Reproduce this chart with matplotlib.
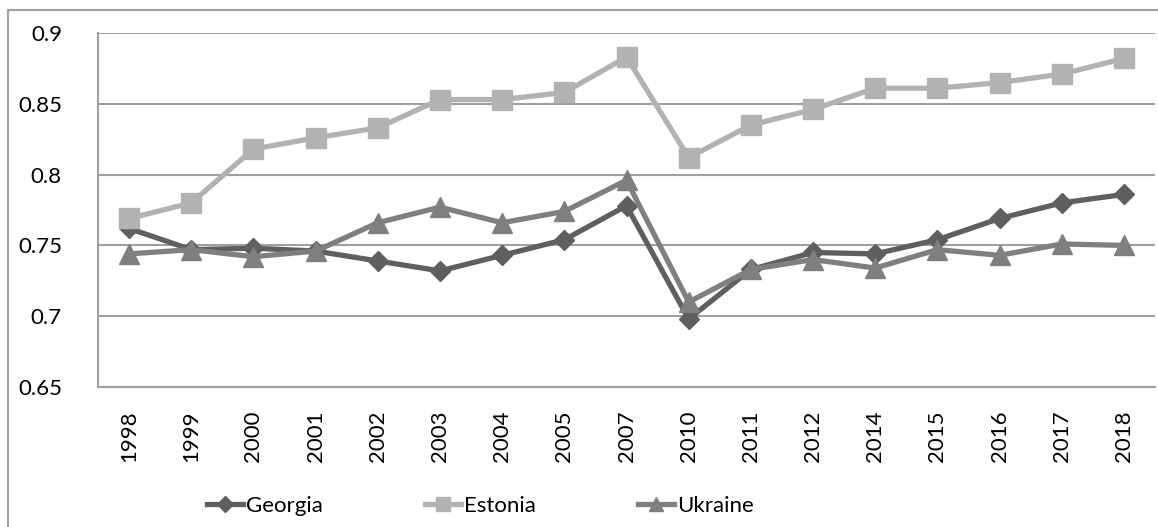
import matplotlib.pyplot as plt
from matplotlib.patches import Rectangle

plt.rcParams['font.family'] = ['Lato', 'DejaVu Sans']

years = ["1998", "1999", "2000", "2001", "2002", "2003", "2004", "2005", "2007",
         "2010", "2011", "2012", "2014", "2015", "2016", "2017", "2018"]
georgia = [0.762, 0.747, 0.748, 0.746, 0.739, 0.732, 0.743, 0.754, 0.778,
           0.698, 0.733, 0.745, 0.744, 0.754, 0.769, 0.780, 0.786]
estonia = [0.769, 0.780, 0.818, 0.826, 0.833, 0.853, 0.853, 0.858, 0.883,
           0.812, 0.835, 0.846, 0.861, 0.861, 0.865, 0.871, 0.882]
ukraine = [0.744, 0.747, 0.742, 0.746, 0.766, 0.777, 0.766, 0.774, 0.796,
           0.710, 0.733, 0.740, 0.734, 0.747, 0.743, 0.751, 0.750]
yticks = [0.65, 0.7, 0.75, 0.8, 0.85, 0.9]
ylabels = ["0.65", "0.7", "0.75", "0.8", "0.85", "0.9"]

W, H = 1158, 527
fig = plt.figure(figsize=(W / 100, H / 100), dpi=100)
ax = fig.add_axes([98 / W, 1 - 387 / H, (1155 - 98) / W, (387 - 33) / H])

grid_c = "#a0a0a0"
x = range(len(years))
ax.plot(x, georgia, color="#5f5f5f", lw=3.8, marker="D", ms=10.5, label="Georgia")
ax.plot(x, estonia, color="#b2b2b2", lw=3.8, marker="s", ms=14, label="Estonia")
ax.plot(x, ukraine, color="#7f7f7f", lw=3.8, marker="^", ms=14, label="Ukraine")

ax.set_xlim(-0.5, len(years) - 0.5)
ax.set_ylim(0.65, 0.9)
ax.set_yticks(yticks)
ax.set_yticklabels(ylabels)
ax.set_xticks(list(x))
ax.set_xticklabels(years, rotation=90)
ax.tick_params(axis="y", length=0, pad=26, labelsize=16)
ax.tick_params(axis="x", length=0, pad=17, labelsize=16)
ax.yaxis.grid(True, color=grid_c, lw=1.5)
ax.set_axisbelow(True)
for side in ["top", "right"]:
    ax.spines[side].set_visible(False)
for side in ["left", "bottom"]:
    ax.spines[side].set_color(grid_c)
    ax.spines[side].set_linewidth(1.5)

# outer chart border, running off the right and bottom edges
fig.patches.append(Rectangle((8 / W, -0.1), 1.2, 1 - 10 / H + 0.1,
                             transform=fig.transFigure, fill=False,
                             edgecolor=grid_c, lw=1.5))

leg = fig.legend(loc="center left", bbox_to_anchor=(207 / W, 1 - 506 / H), ncol=3,
                 frameon=False, fontsize=16, handlelength=1.6, handletextpad=0.15,
                 columnspacing=4.6, borderpad=0, borderaxespad=0, markerscale=0.75)

fig.savefig("out.png", dpi=100)
